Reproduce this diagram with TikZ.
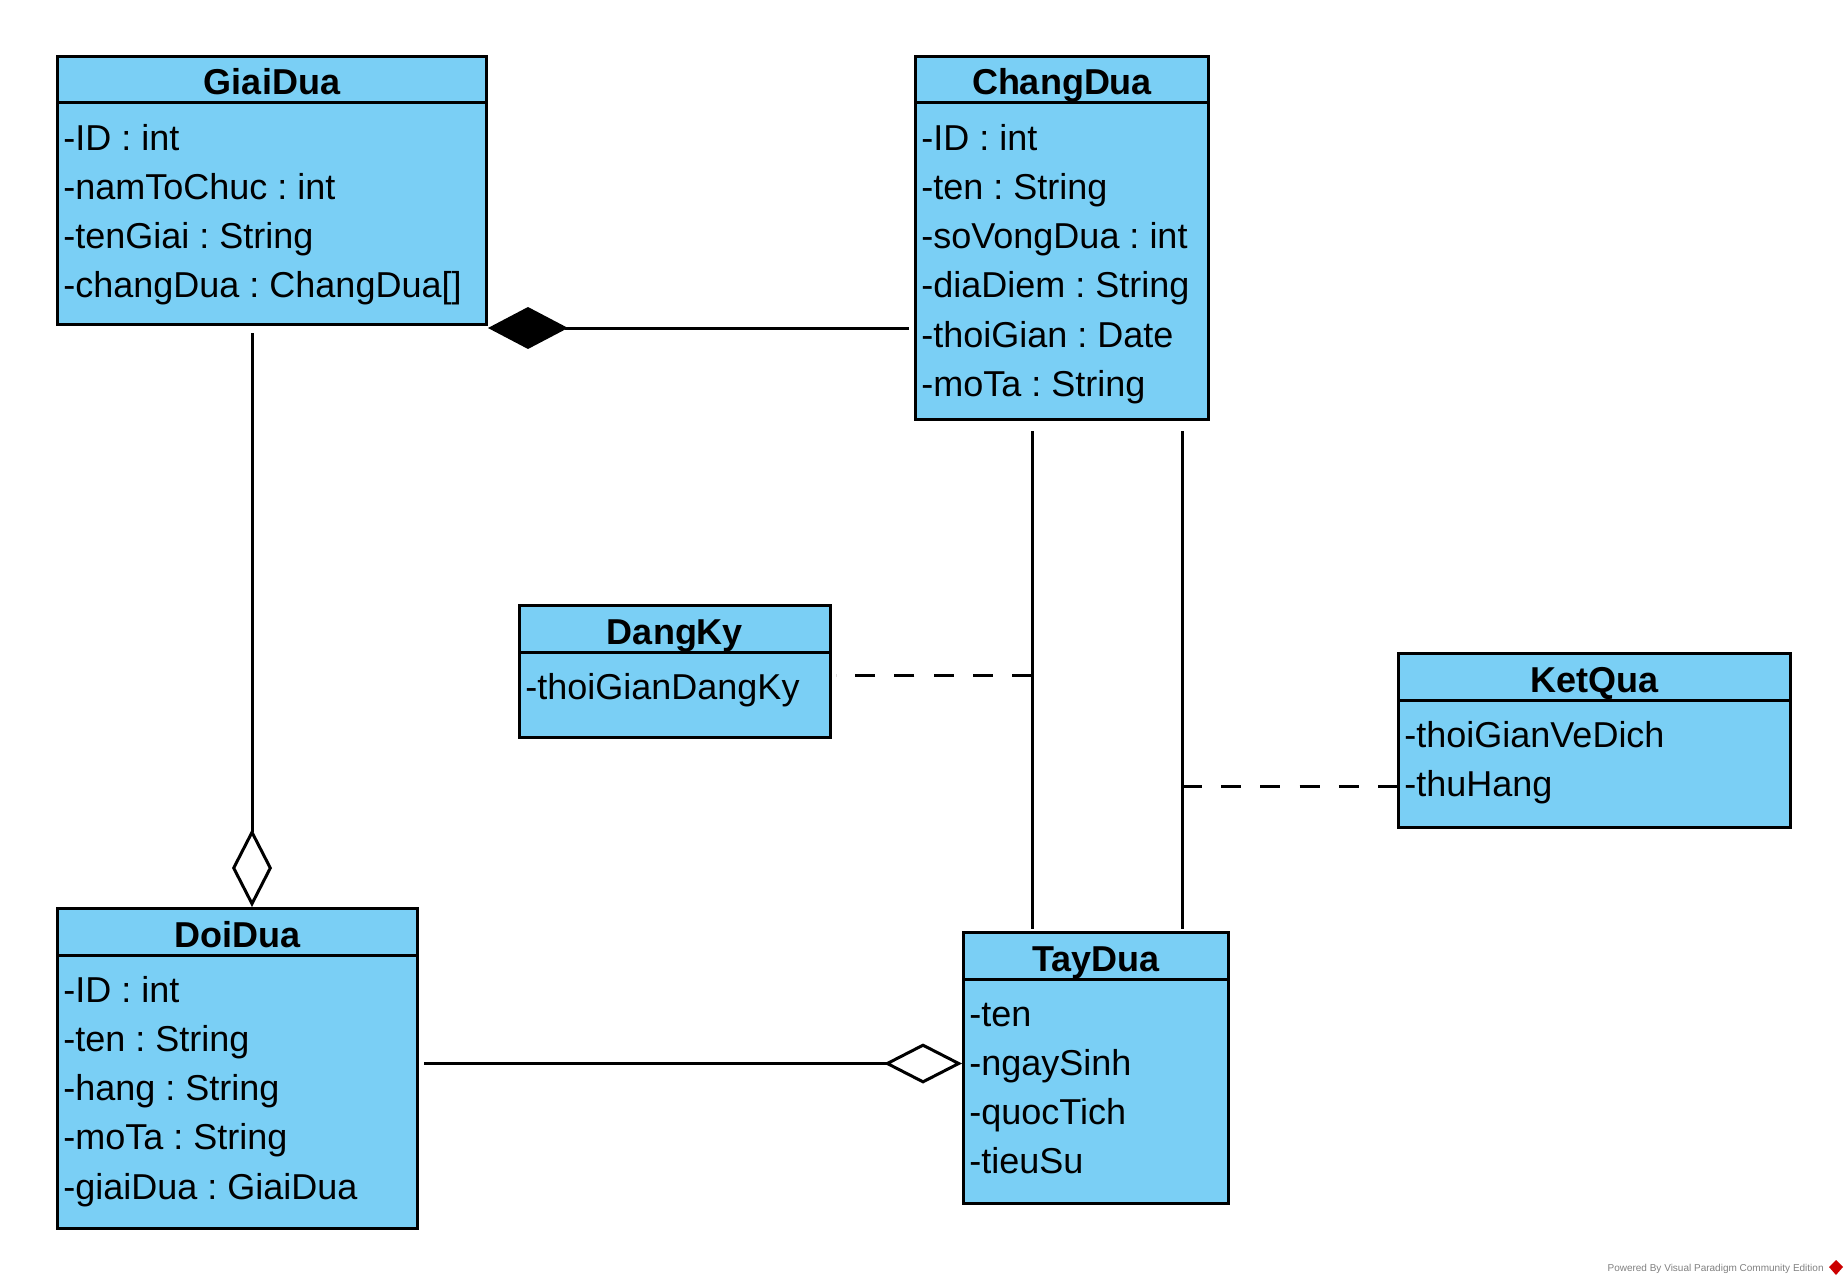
\documentclass[tikz,border=0pt]{standalone}
\usepackage{fontspec}
\setmainfont{Liberation Sans}
\usetikzlibrary{calc,positioning,arrows.meta}
\definecolor{classblue}{RGB}{122,207,245}

\begin{document}
\frenchspacing
\begin{tikzpicture}[
 x=0.5pt, y=-0.5pt,
 font=\fontsize{18}{21}\selectfont,
 classbox/.style={draw=black,line width=1.5pt,fill=classblue,inner sep=0pt,anchor=north west},
 classline/.style={black,line width=1.5pt},
 classname/.style={anchor=base,inner sep=0pt,font=\fontsize{18}{21}\selectfont\bfseries},
 attr/.style={anchor=base west,inner sep=0pt},
 assoc/.style={black,line width=1.5pt},
 composition/.style={assoc,{Diamond[length=40pt,width=21pt]}-},
 aggregation/.style={assoc,-{Diamond[open,length=39pt,width=20pt]}},
 classlink/.style={black,line width=1.5pt,dash pattern=on 10pt off 9.6pt},
]
\useasboundingbox (0,0) rectangle (1848,1284);

% Class boxes
\foreach \cls/\x/\y/\w/\h in {GiaiDua/56/55/429/268, ChangDua/914/55/293/363,
    DangKy/518/604/311/132, KetQua/1397/652/392/174,
    DoiDua/56/907/360/320, TayDua/962/931/265/271} {
    \node[classbox,minimum width=\w*0.5pt,minimum height=\h*0.5pt] (\cls) at (\x,\y) {};
    \draw[classline] ($(\cls.north west)+(0,48)$) -- ($(\cls.north east)+(0,48)$);
    \node[classname] (\cls-name) at ($(\cls.north)+(0,40)$) {\cls};
}

% Attributes
\foreach \cls/\attrs in {
    GiaiDua/{-ID : int,-namToChuc : int,-tenGiai : String,-changDua : ChangDua[]},
    ChangDua/{-ID : int,-ten : String,-soVongDua : int,-diaDiem : String,-thoiGian : Date,-moTa : String},
    DangKy/{-thoiGianDangKy},
    KetQua/{-thoiGianVeDich,-thuHang},
    DoiDua/{-ID : int,-ten : String,-hang : String,-moTa : String,-giaiDua : GiaiDua},
    TayDua/{-ten,-ngaySinh,-quocTich,-tieuSu}}
    \foreach \a [count=\i] in \attrs
        \node[attr] (\cls-\i) at ($(\cls.north west)+(7,{95+(\i-1)*49.3})$) {\a};

% Composition
\coordinate (comp) at ($(GiaiDua.south east)+(0,2)$);
\draw[composition,shorten >=2.5pt] (comp) -- (comp -| ChangDua.west);

% Aggregations
\coordinate (gd-out) at ($(GiaiDua.south west)+(196,7)$);
\draw[aggregation] (gd-out) -- (gd-out |- DoiDua.north);
\coordinate (dd-out) at ($(DoiDua.east)+(5,-5)$);
\draw[aggregation] (dd-out) -- (dd-out -| TayDua.west);

% Associations
\coordinate (cd-a) at ($(ChangDua.south west)+(118,10)$);
\coordinate (cd-b) at ($(ChangDua.south west)+(268,10)$);
\draw[assoc,shorten >=1pt] (cd-a) -- (cd-a |- TayDua.north);
\draw[assoc,shorten >=1pt] (cd-b) -- (cd-b |- TayDua.north);

% Association classes
\coordinate (dk-out) at ($(DangKy.east)+(4,4)$);
\draw[classlink] (dk-out -| cd-a) -- (dk-out);
\coordinate (kq-in) at ($(KetQua.west)+(0,46)$);
\draw[classlink] (kq-in -| cd-b) -- (kq-in);

% Footer
\node[anchor=base east,inner sep=0pt,text=gray,font=\fontsize{5}{6}\selectfont] (powered) at (1824,1271) {Powered By Visual Paradigm Community Edition};
\fill[red!80!black] (1836,1260) -- (1843,1267) -- (1836,1275) -- (1829,1267) -- cycle;

\end{tikzpicture}
\end{document}
